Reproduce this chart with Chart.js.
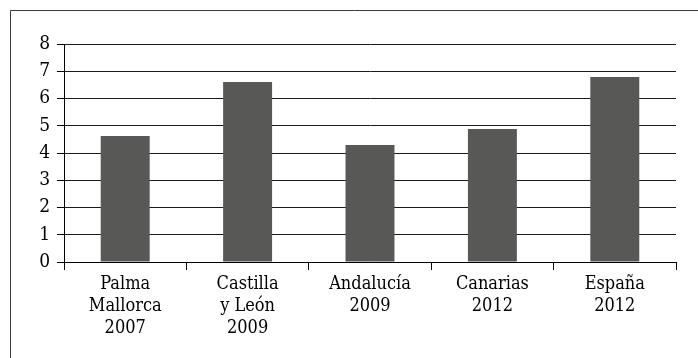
<!DOCTYPE html>
<html>
<head>
<meta charset="utf-8">
<script src="https://cdn.jsdelivr.net/npm/chart.js@4"></script>
<style>
  html, body { margin: 0; padding: 0; background: #fff; }
  #wrap { position: relative; width: 698px; height: 358px; }
</style>
</head>
<body>
<div id="wrap"><canvas id="chart" width="698" height="358"></canvas></div>
<script>
const categories = [
    ['Palma', 'Mallorca', '2007'],
    ['Castilla', 'y León', '2009'],
    ['Andalucía', '2009'],
    ['Canarias', '2012'],
    ['España', '2012']
];
const values = [4.62, 6.61, 4.29, 4.88, 6.79];
const yTicks = [0, 1, 2, 3, 4, 5, 6, 7, 8];

Chart.defaults.font.family = '"DejaVu Serif Condensed", "DejaVu Serif", serif';
Chart.defaults.color = '#000';

// frame line along the top and left edge
const framePlugin = {
    id: 'frame',
    beforeDraw(chart) {
        const ctx = chart.ctx;
        ctx.save();
        ctx.strokeStyle = '#3a3a3a';
        ctx.lineWidth = 1;
        ctx.beginPath();
        ctx.moveTo(10.5, 358);
        ctx.lineTo(10.5, 10.5);
        ctx.lineTo(698, 10.5);
        ctx.stroke();
        ctx.restore();
    }
};

const ctx = document.getElementById('chart').getContext('2d');
new Chart(ctx, {
    type: 'bar',
    data: {
        labels: categories,
        datasets: [{
            data: values,
            backgroundColor: '#585856',
            borderWidth: 0,
            barPercentage: 0.4,
            categoryPercentage: 1
        }]
    },
    options: {
        responsive: false,
        animation: false,
        layout: { padding: { left: 0, right: 22, top: 44, bottom: 0 } },
        plugins: {
            legend: { display: false },
            tooltip: { enabled: false }
        },
        scales: {
            x: {
                offset: true,
                grid: {
                    offset: true,
                    drawOnChartArea: false,
                    color: '#000',
                    tickLength: 8,
                    tickColor: '#000'
                },
                border: { color: '#000', width: 1 },
                ticks: {
                    padding: 3,
                    maxRotation: 0,
                    autoSkip: false,
                    font: { size: 18, lineHeight: 1.22 }
                },
                afterFit(scale) { scale.height = 96; }
            },
            y: {
                min: 0,
                max: 8,
                afterBuildTicks(scale) {
                    scale.ticks = yTicks.map(v => ({ value: v }));
                },
                grid: {
                    color: '#1a1a1a',
                    lineWidth: 1,
                    tickLength: 7,
                    tickColor: '#000'
                },
                border: { color: '#000', width: 1 },
                ticks: {
                    padding: 7,
                    font: { size: 19 }
                },
                afterFit(scale) { scale.width = 64; }
            }
        }
    },
    plugins: [framePlugin]
});
</script>
</body>
</html>
